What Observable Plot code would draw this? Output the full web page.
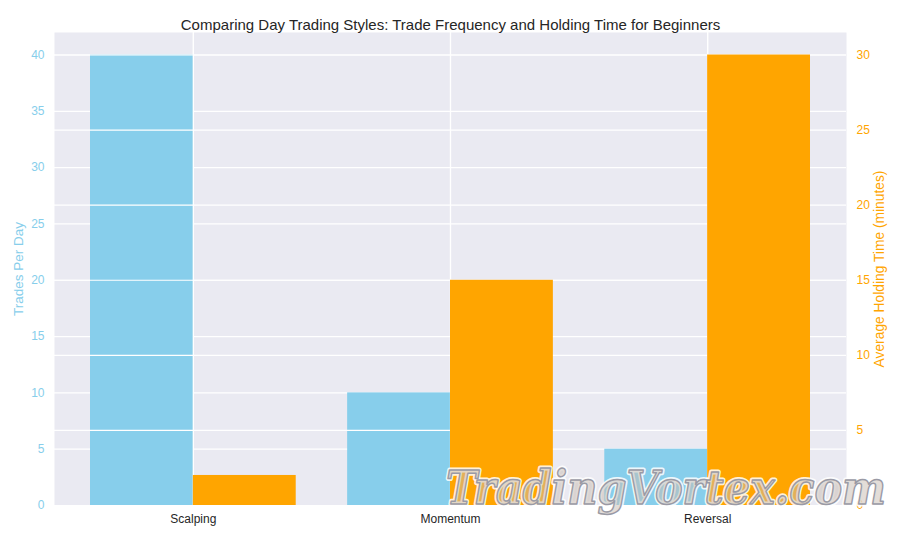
<!DOCTYPE html>
<html><head><meta charset="utf-8">
<script src="https://cdn.jsdelivr.net/npm/d3@7"></script>
<script src="https://cdn.jsdelivr.net/npm/@observablehq/plot@0.6"></script>
<style>
body{margin:0;background:#fff;font-family:"Liberation Sans",Arial,sans-serif;}
#wrap{position:relative;width:900px;height:540px;}
#wm{position:absolute;left:0;top:0;pointer-events:none;}
</style></head><body><div id="wrap"></div>
<script>
const title = "Comparing Day Trading Styles: Trade Frequency and Holding Time for Beginners";
const categories = ["Scalping", "Momentum", "Reversal"];
const tradesPerDay = [40, 10, 5];
const holdingMinutes = [2, 15, 30];
const leftTicks = [0, 5, 10, 15, 20, 25, 30, 35, 40];
const rightTicks = [0, 5, 10, 15, 20, 25, 30];
const leftLabel = "Trades Per Day";
const rightLabel = "Average Holding Time (minutes)";
const watermark = "TradingVortex.com";

const leftMax = 42, rightMax = 31.5;
const k = leftMax / rightMax;
const barW = 0.4;
const idx = categories.map((c, i) => i);
const blue = categories.map((c, i) => ({cat: c, i, v: tradesPerDay[i]}));
const orange = categories.map((c, i) => ({cat: c, i, v: holdingMinutes[i]}));

const BLUE = "#87CEEB", ORANGE = "#FFA500", DARK = "#262626";

const plot = Plot.plot({
  width: 900, height: 540,
  marginLeft: 54, marginRight: 54, marginTop: 32, marginBottom: 35,
  style: {fontFamily: '"Liberation Sans", Arial, sans-serif', fontSize: "12px", background: "white", overflow: "visible"},
  x: {type: "linear", domain: [-0.54, 2.54]},
  y: {domain: [0, leftMax]},
  marks: [
    Plot.frame({fill: "#EAEAF2", stroke: "none"}),
    Plot.ruleY(leftTicks, {stroke: "white", strokeWidth: 1.2}),
    Plot.ruleX(idx, {stroke: "white", strokeWidth: 1.2}),
    Plot.rect(blue, {x1: d => d.i - barW, x2: d => d.i, y1: 0, y2: "v", fill: BLUE, inset: 0}),
    Plot.ruleY(rightTicks, {y: d => d * k, stroke: "white", strokeWidth: 1.2}),
    Plot.ruleX(idx, {stroke: "white", strokeWidth: 1.2}),
    Plot.rect(orange, {x1: d => d.i, x2: d => d.i + barW, y1: 0, y2: d => d.v * k, fill: ORANGE, inset: 0}),
    Plot.axisX(idx, {tickSize: 0, tickPadding: 9, tickFormat: i => categories[i], label: null, color: DARK, fontSize: 12}),
    Plot.axisY(leftTicks, {anchor: "left", tickSize: 0, tickPadding: 10, label: null, color: BLUE, fontSize: 12}),
    Plot.axisY(rightTicks.map(d => d * k), {anchor: "right", tickSize: 0, tickPadding: 10, label: null, color: ORANGE, fontSize: 12,
      tickFormat: d => String(Math.round(d / k))}),
    Plot.text([leftLabel], {frameAnchor: "left", dx: -36, rotate: -90, fill: BLUE, fontSize: 13.5, textAnchor: "middle"}),
    Plot.text([rightLabel], {frameAnchor: "right", dx: 33, rotate: -90, fill: ORANGE, fontSize: 13.8, textAnchor: "middle"}),
    Plot.text([title], {frameAnchor: "top", dy: -13, fill: DARK, fontSize: 15, textAnchor: "middle"})
  ]
});
const wrap = document.getElementById("wrap");
wrap.appendChild(plot);

const ns = "http://www.w3.org/2000/svg";
const wm = document.createElementNS(ns, "svg");
wm.setAttribute("id", "wm");
wm.setAttribute("width", 900);
wm.setAttribute("height", 540);
function addText(attrs) {
  const t = document.createElementNS(ns, "text");
  for (const [a, v] of Object.entries(attrs)) t.setAttribute(a, v);
  t.textContent = watermark;
  wm.appendChild(t);
}
const common = {x: 446, y: 504, "font-family": '"DejaVu Serif", serif', "font-style": "italic", "font-weight": "bold",
  "font-size": 46, textLength: 440, lengthAdjust: "spacingAndGlyphs"};
addText({...common, fill: "none", stroke: "rgba(255,255,255,0.85)", "stroke-width": 5, "stroke-linejoin": "round"});
addText({...common, fill: "rgba(200,188,178,0.5)", stroke: "#9a9aa5", "stroke-width": 1.5, "stroke-linejoin": "round"});
wrap.appendChild(wm);
</script>
</body></html>
